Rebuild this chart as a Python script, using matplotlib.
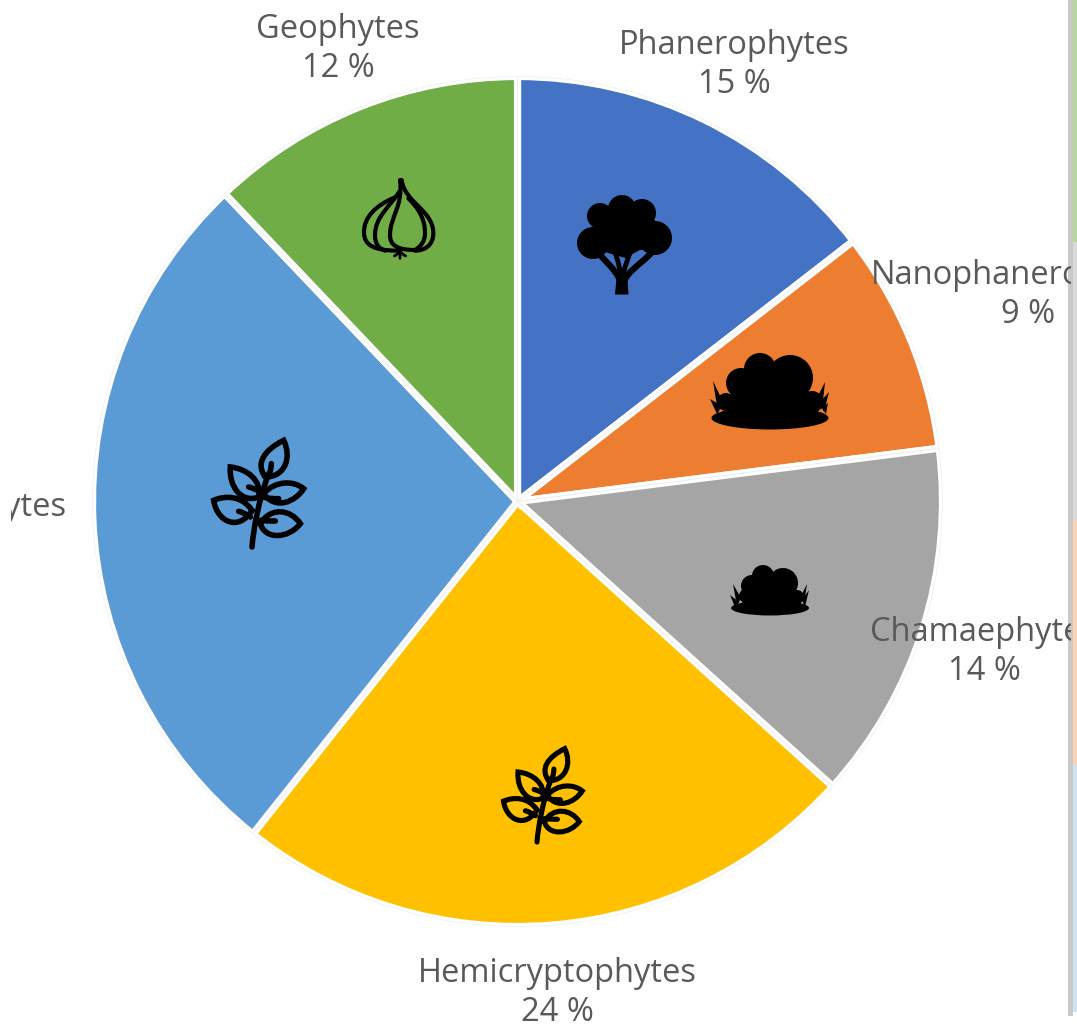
import numpy as np
import matplotlib
matplotlib.use("Agg")
import matplotlib.pyplot as plt
from matplotlib.path import Path
from matplotlib.patches import PathPatch, Ellipse, Circle, Rectangle

W, H = 1077, 1026

names = ["Phanerophytes", "Nanophanerophytes", "Chamaephytes", "Hemicryptophytes", "Therophytes", "Geophytes"]
shown = ["15 %", "9 %", "14 %", "24 %", "27 %", "12 %"]
shares = [14.5, 8.5, 13.7, 24.0, 27.2, 12.1]
colors = ["#4472C4", "#ED7D31", "#A5A5A5", "#FFC000", "#5B9BD5", "#70AD47"]
label_x = [734, 1028, 984, 557, -29, 338]
label_y = [65, 295, 652, 993, 527, 49]

cx, cy, r = 517.5, 501.5, 425

fig = plt.figure(figsize=(W / 100, H / 100), dpi=100)
plt.rcParams['font.family'] = ['Open Sans', 'DejaVu Sans']

# pie gets its own square axes, the rest is drawn in pixel coords on top
ax = fig.add_axes([(cx - r - 5) / W, 1 - (cy + r + 5) / H, (2 * r + 10) / W, (2 * r + 10) / H])
ax.pie(shares, colors=colors, startangle=90, counterclock=False, radius=r,
       wedgeprops=dict(edgecolor="white", linewidth=5.2))
# faint outline that sits in the middle of the white gaps
ax.pie(shares, colors=["none"] * 6, startangle=90, counterclock=False, radius=r,
       wedgeprops=dict(edgecolor="#EDEFF4", linewidth=0.5))
ax.set_xlim(-r - 5, r + 5)
ax.set_ylim(-r - 5, r + 5)
ax.set_aspect("equal")
ax.axis("off")

top = fig.add_axes([0, 0, 1, 1])
top.set_xlim(0, W)
top.set_ylim(H, 0)
top.axis("off")
top.patch.set_alpha(0)

# right hand strip of the screenshot
top.add_patch(Rectangle((1068, 0), 5, 1016, color="#C9C9C9", lw=0))
top.add_patch(Rectangle((1073, 0), 4, 242, color="#B5D99C", lw=0))
top.add_patch(Rectangle((1073, 242), 4, 278, color="#DADADA", lw=0))
top.add_patch(Rectangle((1073, 520), 4, 245, color="#FBD3B5", lw=0))
top.add_patch(Rectangle((1073, 765), 4, 247, color="#CFE2F3", lw=0))

clip = Rectangle((11, 0), 1060, H, transform=top.transData)
for n, s, x, y in zip(names, shown, label_x, label_y):
    t = top.text(x, y, n + "\n" + s, ha="center", va="center", fontsize=23.5, color="#595959", linespacing=1.27)
    t.set_clip_path(clip)
    t.set_clip_on(True)


def blob(circles):
    for x, y, rad in circles:
        top.add_patch(Circle((x, y), rad, color="black", lw=0))


def poly(pts):
    top.fill([p[0] for p in pts], [p[1] for p in pts], color="black", lw=0)


def curve(pts, lw=3.0):
    # cubic bezier run: start, then 3 points per segment
    codes = [Path.MOVETO] + [Path.CURVE4] * (len(pts) - 1)
    top.add_patch(PathPatch(Path(pts, codes), fc="none", ec="black", lw=lw, capstyle="round"))


def grass(tip, a, b):
    poly([tip, a, b])


# tree
blob([(622, 209, 14), (600, 216, 13), (642, 213, 14), (593, 243, 16), (655, 238, 17), (625, 230, 22)])
poly([(592, 228), (604, 212), (640, 205), (662, 228), (660, 250), (640, 250), (625, 258), (605, 252)])
curve([(622, 290), (621, 275), (612, 268), (600, 255)], lw=4.5)
curve([(622, 290), (623, 272), (640, 266), (652, 252)], lw=4.5)
curve([(621, 280), (620, 268), (618, 260), (614, 250)], lw=3.5)
curve([(622, 280), (624, 268), (628, 258), (632, 248)], lw=3.5)
poly([(617, 272), (627, 272), (628.5, 294.5), (615, 294.5)])

# big bush
blob([(760, 369, 16), (790, 378, 23), (741, 383, 15), (812, 402, 11), (726, 402, 9)])
poly([(730, 395), (745, 372), (790, 365), (810, 395), (815, 415), (725, 415)])
top.add_patch(Ellipse((770, 418), 117, 23, color="black", lw=0))
grass((713, 381), (722, 400), (718, 412))
grass((710, 399), (722, 406), (717, 414))
grass((825, 382), (817, 398), (822, 410))
grass((829, 392), (820, 402), (824, 412))
grass((828, 403), (822, 408), (826, 414))

# small bush
blob([(763, 576, 11), (783, 583, 15), (752, 586, 11), (746, 596, 7), (797, 597, 7)])
poly([(745, 592), (755, 578), (785, 575), (798, 592), (802, 608), (741, 608)])
top.add_patch(Ellipse((770, 608), 78, 15, color="black", lw=0))
grass((733, 584), (741, 598), (737, 606))
grass((730, 595), (739, 602), (735, 607))
grass((807, 584), (801, 596), (804, 604))
grass((809, 590), (802, 600), (805, 607))

# garlic, points
def G(pts):
    return [(340 + a / 3, 160 + b / 3) for a, b in pts]


curve(G([(185, 60), (195, 130), (280, 150), (280, 220), (280, 255), (255, 272), (225, 272)]))
curve(G([(165, 112), (110, 135), (70, 170), (72, 220), (74, 255), (100, 272), (175, 272)]))
curve(G([(178, 95), (150, 140), (105, 170), (105, 225), (105, 250), (115, 265), (135, 272)]))
curve(G([(180, 60), (190, 140), (150, 170), (150, 225), (150, 255), (170, 270), (225, 270)]))
curve(G([(205, 115), (235, 145), (255, 175), (255, 220), (255, 245), (240, 262), (225, 270)]))
curve(G([(180, 272), (180, 280), (180, 287), (180, 295)]), lw=2)
curve(G([(180, 274), (175, 280), (170, 284), (163, 288)]), lw=2)
curve(G([(180, 274), (185, 280), (190, 284), (197, 288)]), lw=2)


leaves = [
    [(195, 140), (165, 100), (190, 60), (250, 30), (275, 80), (255, 140), (195, 140)],
    [(175, 200), (185, 150), (140, 115), (90, 110), (85, 170), (125, 220), (175, 200)],
    [(190, 190), (225, 150), (280, 150), (310, 175), (285, 215), (225, 240), (190, 190)],
    [(155, 240), (125, 195), (75, 195), (40, 210), (50, 275), (115, 305), (155, 240)],
    [(180, 280), (210, 230), (270, 235), (300, 280), (265, 325), (195, 330), (180, 280)],
]
veins = [
    [(213, 100), (212, 112), (211, 124), (205, 135)],
    [(145, 170), (155, 172), (168, 178), (180, 185)],
    [(190, 200), (205, 205), (220, 205), (235, 205)],
    [(115, 243), (125, 245), (138, 252), (150, 260)],
    [(180, 270), (195, 272), (210, 272), (225, 272)],
]


def sprig(x0, y0, s, lw):
    # x0, y0 is the foot of the stem, crop coords are from the blue slice icon
    def P(pts):
        return [(x0 + s * (a - 155) / 3, y0 + s * (b - 350) / 3) for a, b in pts]
    curve(P([(155, 350), (160, 290), (175, 210), (205, 130)]), lw)
    for leaf in leaves:
        curve(P(leaf), lw)
    for v in veins:
        curve(P(v), lw)


sprig(252, 547, 1.0, 4.0)
sprig(537, 842, 0.875, 3.7)

fig.savefig("out.png", dpi=100)
